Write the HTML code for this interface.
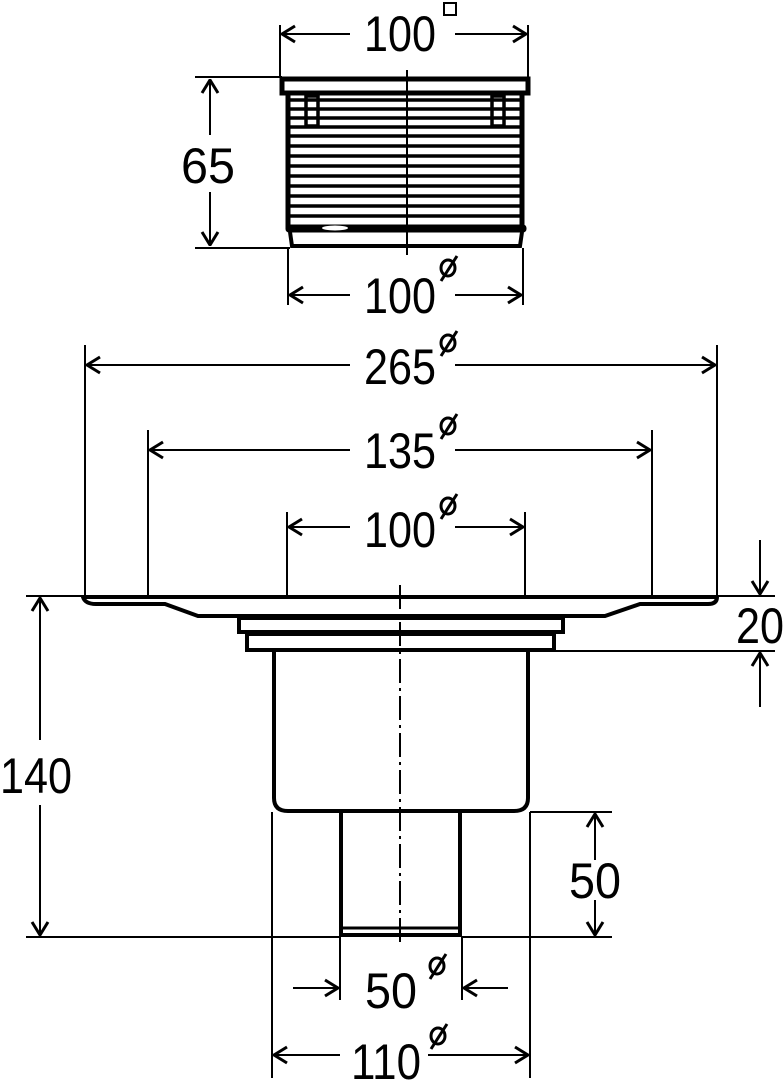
<!DOCTYPE html>
<html><head><style>html,body{margin:0;padding:0;background:#fff}svg{display:block}
text{font-family:"Liberation Sans",sans-serif;font-size:50px;fill:#000}</style></head><body>
<svg width="783" height="1080" viewBox="0 0 783 1080" xmlns="http://www.w3.org/2000/svg">
<defs>
<marker id="a" viewBox="0 0 20 20" refX="19" refY="10" markerWidth="20" markerHeight="20" markerUnits="userSpaceOnUse" orient="auto"><path d="M6,2 L19,10 L6,18" fill="none" stroke="#000" stroke-width="3"/></marker>
</defs>
<g stroke="#000" stroke-width="2" fill="none">
<line x1="280" y1="25" x2="280" y2="78"/><line x1="528" y1="25" x2="528" y2="78"/>
<line x1="350" y1="34" x2="282" y2="34" marker-end="url(#a)"/><line x1="455" y1="34" x2="526" y2="34" marker-end="url(#a)"/>
<rect x="444" y="3" width="12" height="12"/>
<line x1="195" y1="77" x2="282" y2="77"/><line x1="195" y1="248" x2="290" y2="248"/>
<line x1="210" y1="135" x2="210" y2="80" marker-end="url(#a)"/><line x1="210" y1="192" x2="210" y2="245" marker-end="url(#a)"/>
<line x1="288" y1="248" x2="288" y2="305"/><line x1="523" y1="248" x2="523" y2="305"/>
<line x1="350" y1="295" x2="290" y2="295" marker-end="url(#a)"/><line x1="455" y1="295" x2="521" y2="295" marker-end="url(#a)"/>
<line x1="85" y1="345" x2="85" y2="597"/><line x1="717" y1="345" x2="717" y2="597"/>
<line x1="350" y1="365" x2="87" y2="365" marker-end="url(#a)"/><line x1="455" y1="365" x2="715" y2="365" marker-end="url(#a)"/>
<line x1="148" y1="430" x2="148" y2="597"/><line x1="652" y1="430" x2="652" y2="597"/>
<line x1="350" y1="450" x2="150" y2="450" marker-end="url(#a)"/><line x1="455" y1="450" x2="650" y2="450" marker-end="url(#a)"/>
<line x1="287" y1="512" x2="287" y2="597"/><line x1="525" y1="512" x2="525" y2="597"/>
<line x1="350" y1="527" x2="289" y2="527" marker-end="url(#a)"/><line x1="455" y1="527" x2="523" y2="527" marker-end="url(#a)"/>
<line x1="26" y1="596" x2="775" y2="596"/>
<line x1="555" y1="651" x2="775" y2="651"/>
<line x1="760" y1="540" x2="760" y2="594" marker-end="url(#a)"/>
<line x1="760" y1="707" x2="760" y2="653" marker-end="url(#a)"/>
<line x1="26" y1="937" x2="340" y2="937"/>
<line x1="40" y1="740" x2="40" y2="598" marker-end="url(#a)"/><line x1="40" y1="805" x2="40" y2="935" marker-end="url(#a)"/>
<line x1="530" y1="812" x2="612" y2="812"/><line x1="462" y1="937" x2="612" y2="937"/>
<line x1="595" y1="860" x2="595" y2="814" marker-end="url(#a)"/><line x1="595" y1="900" x2="595" y2="935" marker-end="url(#a)"/>
<line x1="340" y1="937" x2="340" y2="1000"/><line x1="462" y1="937" x2="462" y2="1000"/>
<line x1="293" y1="988" x2="338" y2="988" marker-end="url(#a)"/><line x1="508" y1="988" x2="464" y2="988" marker-end="url(#a)"/>
<line x1="272" y1="812" x2="272" y2="1078"/><line x1="530" y1="812" x2="530" y2="1078"/>
<line x1="340" y1="1055" x2="274" y2="1055" marker-end="url(#a)"/><line x1="428" y1="1055" x2="528" y2="1055" marker-end="url(#a)"/>
<g stroke-width="3">
<ellipse cx="448" cy="268" rx="7" ry="8"/><line x1="441" y1="281" x2="457" y2="256"/>
<ellipse cx="448" cy="343" rx="7" ry="8"/><line x1="441" y1="356" x2="457" y2="331"/>
<ellipse cx="448" cy="426" rx="7" ry="8"/><line x1="441" y1="439" x2="457" y2="414"/>
<ellipse cx="448" cy="506" rx="7" ry="8"/><line x1="441" y1="519" x2="457" y2="494"/>
<ellipse cx="437" cy="966" rx="7" ry="8"/><line x1="430" y1="979" x2="446" y2="954"/>
<ellipse cx="438" cy="1036" rx="7" ry="8"/><line x1="431" y1="1049" x2="447" y2="1024"/>
</g>
</g>
<g stroke="#000" fill="none">
<rect x="282" y="79" width="246" height="14" stroke-width="5"/>
<line x1="288" y1="95" x2="288" y2="228" stroke-width="5"/><line x1="522" y1="95" x2="522" y2="228" stroke-width="5"/>
<g stroke-width="3.5">
<line x1="290" y1="100" x2="520" y2="100"/><line x1="290" y1="109" x2="520" y2="109"/>
<line x1="290" y1="118" x2="520" y2="118"/><line x1="290" y1="127" x2="520" y2="127"/>
<line x1="290" y1="136" x2="520" y2="136"/><line x1="290" y1="146" x2="520" y2="146"/>
<line x1="290" y1="156" x2="520" y2="156"/><line x1="290" y1="166" x2="520" y2="166"/>
<line x1="290" y1="176" x2="520" y2="176"/><line x1="290" y1="186" x2="520" y2="186"/>
<line x1="290" y1="196" x2="520" y2="196"/><line x1="290" y1="206" x2="520" y2="206"/>
<line x1="290" y1="216" x2="520" y2="216"/>
<rect x="306" y="96" width="12" height="30"/><rect x="492" y="96" width="12" height="30"/>
</g>
<rect x="286" y="225" width="240" height="7" rx="3" fill="#000"/>
<ellipse cx="335" cy="228" rx="13" ry="2.5" fill="#fff" stroke="none"/>
<path d="M290,232 L292,246 L520,246 L522,232" stroke-width="4"/>
<line x1="407" y1="70" x2="407" y2="255" stroke-width="2"/>
</g>
<g stroke="#000" fill="none" stroke-width="4">
<path d="M83,597 L717,597 Q717,604 708,604 L640,604 L605,616 L198,616 L165,604 L96,604 Q85,604 83,597 Z"/>
<rect x="239" y="618" width="324" height="14"/>
<rect x="247" y="634" width="307" height="16"/>
<path d="M274,651 L274,798 Q274,811 288,811 L514,811 Q528,811 528,798 L528,651"/>
<path d="M341,812 L341,935 L460,935 L460,812"/>
<line x1="343" y1="928" x2="458" y2="928" stroke-width="3"/>
</g>
<line x1="400" y1="585" x2="400" y2="945" stroke="#000" stroke-width="2" stroke-dasharray="24,5,3,5"/>
<g text-anchor="middle">
<text x="400" y="51" textLength="72" lengthAdjust="spacingAndGlyphs">100</text>
<text x="208" y="183" textLength="54" lengthAdjust="spacingAndGlyphs">65</text>
<text x="400" y="313" textLength="72" lengthAdjust="spacingAndGlyphs">100</text>
<text x="400" y="384" textLength="72" lengthAdjust="spacingAndGlyphs">265</text>
<text x="400" y="468" textLength="72" lengthAdjust="spacingAndGlyphs">135</text>
<text x="400" y="547" textLength="72" lengthAdjust="spacingAndGlyphs">100</text>
<text x="760" y="643" textLength="48" lengthAdjust="spacingAndGlyphs">20</text>
<text x="36" y="793" textLength="72" lengthAdjust="spacingAndGlyphs">140</text>
<text x="595" y="898" textLength="52" lengthAdjust="spacingAndGlyphs">50</text>
<text x="391" y="1008" textLength="52" lengthAdjust="spacingAndGlyphs">50</text>
<text x="386" y="1079" textLength="70" lengthAdjust="spacingAndGlyphs">110</text>
</g>
</svg>
</body></html>
